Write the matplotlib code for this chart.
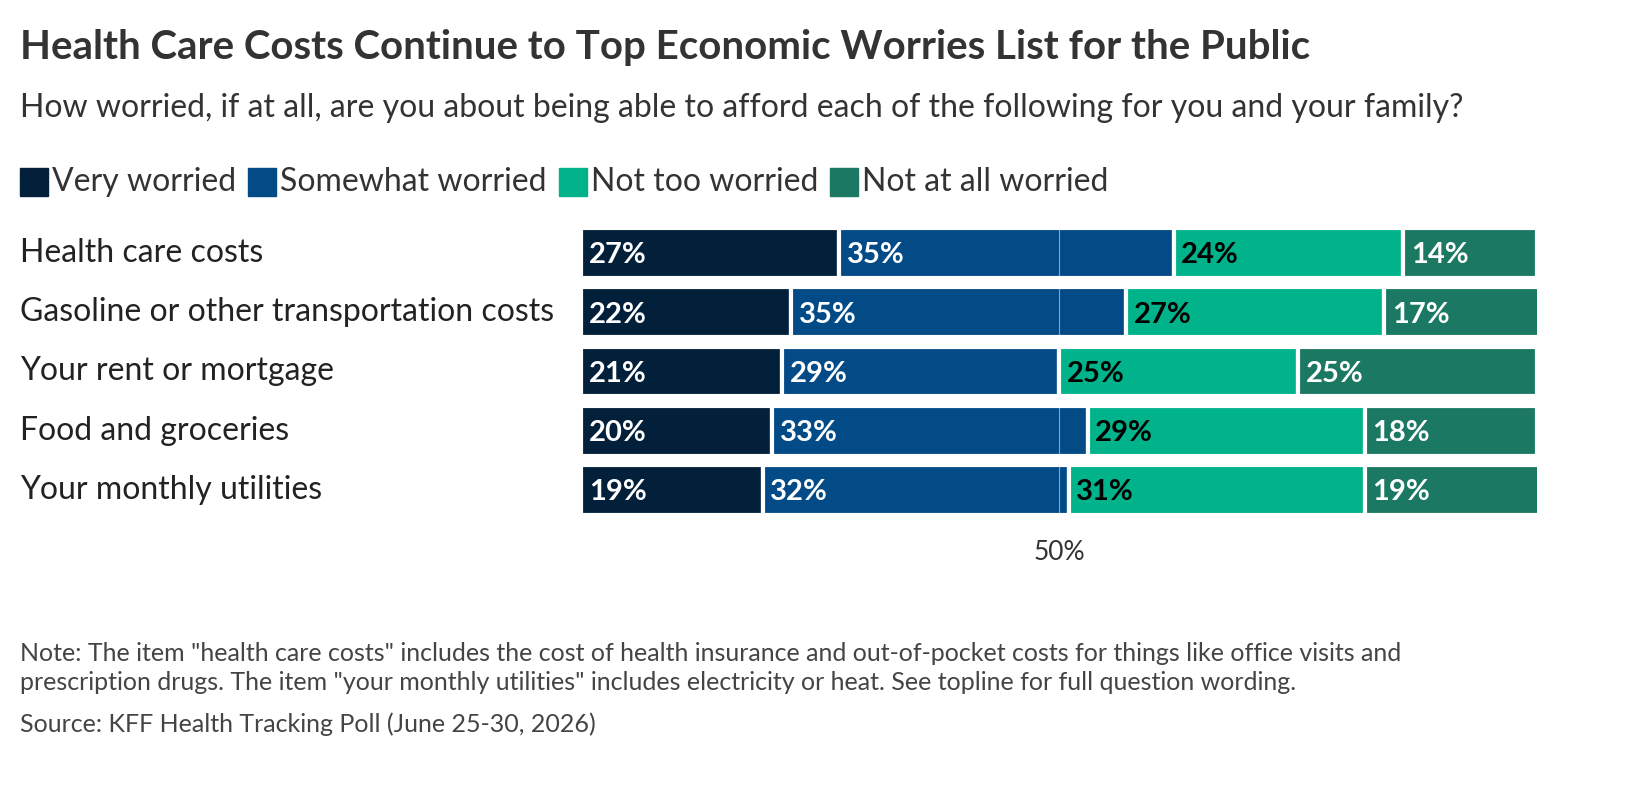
import matplotlib.pyplot as plt
import numpy as np

plt.rcParams['font.family'] = ['Lato', 'DejaVu Sans']

categories = ["Health care costs", "Gasoline or other transportation costs",
              "Your rent or mortgage", "Food and groceries", "Your monthly utilities"]
series = ["Very worried", "Somewhat worried", "Not too worried", "Not at all worried"]
very = [27, 22, 21, 20, 19]
somewhat = [35, 35, 29, 33, 32]
not_too = [24, 27, 25, 29, 31]
not_at_all = [14, 17, 25, 18, 19]
colors = ["#03203b", "#034b87", "#00b38a", "#1b7862"]
text_colors = ["white", "white", "black", "white"]

W, H = 1640, 798
fig = plt.figure(figsize=(W / 100, H / 100), dpi=100)
ax = fig.add_axes([581 / W, 1 - 519.6 / H, (1537 - 581) / W, (519.6 - 223.4) / H])

y = np.arange(len(categories))
left = np.zeros(len(categories))
for vals, col, tc in zip([very, somewhat, not_too, not_at_all], colors, text_colors):
    ax.barh(y, vals, left=left, height=0.84, color=col, edgecolor="white", linewidth=3)
    for yi, (l, v) in enumerate(zip(left, vals)):
        ax.text(l + 0.8, yi + 0.04, f"{v}%", color=tc, fontsize=21, fontweight="bold",
                va="center", ha="left")
    left += vals

ax.axvline(50, color="white", linewidth=0.8, alpha=0.5)
ax.set_xlim(0, 100)
ax.set_ylim(len(categories) - 0.5, -0.5)
ax.axis("off")
ax.text(50, 5.05, "50%", ha="center", va="center", fontsize=19, color="#333333")

for yi, c in enumerate(categories):
    fig.text(20 / W, 1 - (253 + yi * 59.25) / H, c, fontsize=23, color="#222222",
             va="center", ha="left")

fig.text(20 / W, 1 - 48 / H, "Health Care Costs Continue to Top Economic Worries List for the Public",
         fontsize=29, fontweight="bold", color="#333333", va="center")
fig.text(20 / W, 1 - 108 / H,
         "How worried, if at all, are you about being able to afford each of the following for you and your family?",
         fontsize=23, color="#333333", va="center")

# legend
lx = 20
for s, col in zip(series, colors):
    fig.patches.append(plt.Rectangle((lx / W, 1 - 196 / H), 28 / W, 28 / H,
                                     transform=fig.transFigure, color=col))
    t = fig.text((lx + 32) / W, 1 - 182 / H, s, fontsize=23, color="#333333", va="center")
    fig.canvas.draw()
    bb = t.get_window_extent()
    lx = bb.x1 + 12

fig.text(20 / W, 1 - 668 / H,
         'Note: The item "health care costs" includes the cost of health insurance and out-of-pocket costs for things like office visits and\n'
         'prescription drugs. The item "your monthly utilities" includes electricity or heat. See topline for full question wording.',
         fontsize=18, color="#444444", va="center", linespacing=1.3)
fig.text(20 / W, 1 - 724 / H, "Source: KFF Health Tracking Poll (June 25-30, 2026)",
         fontsize=18, color="#444444", va="center")

fig.savefig("out.png", dpi=100)
